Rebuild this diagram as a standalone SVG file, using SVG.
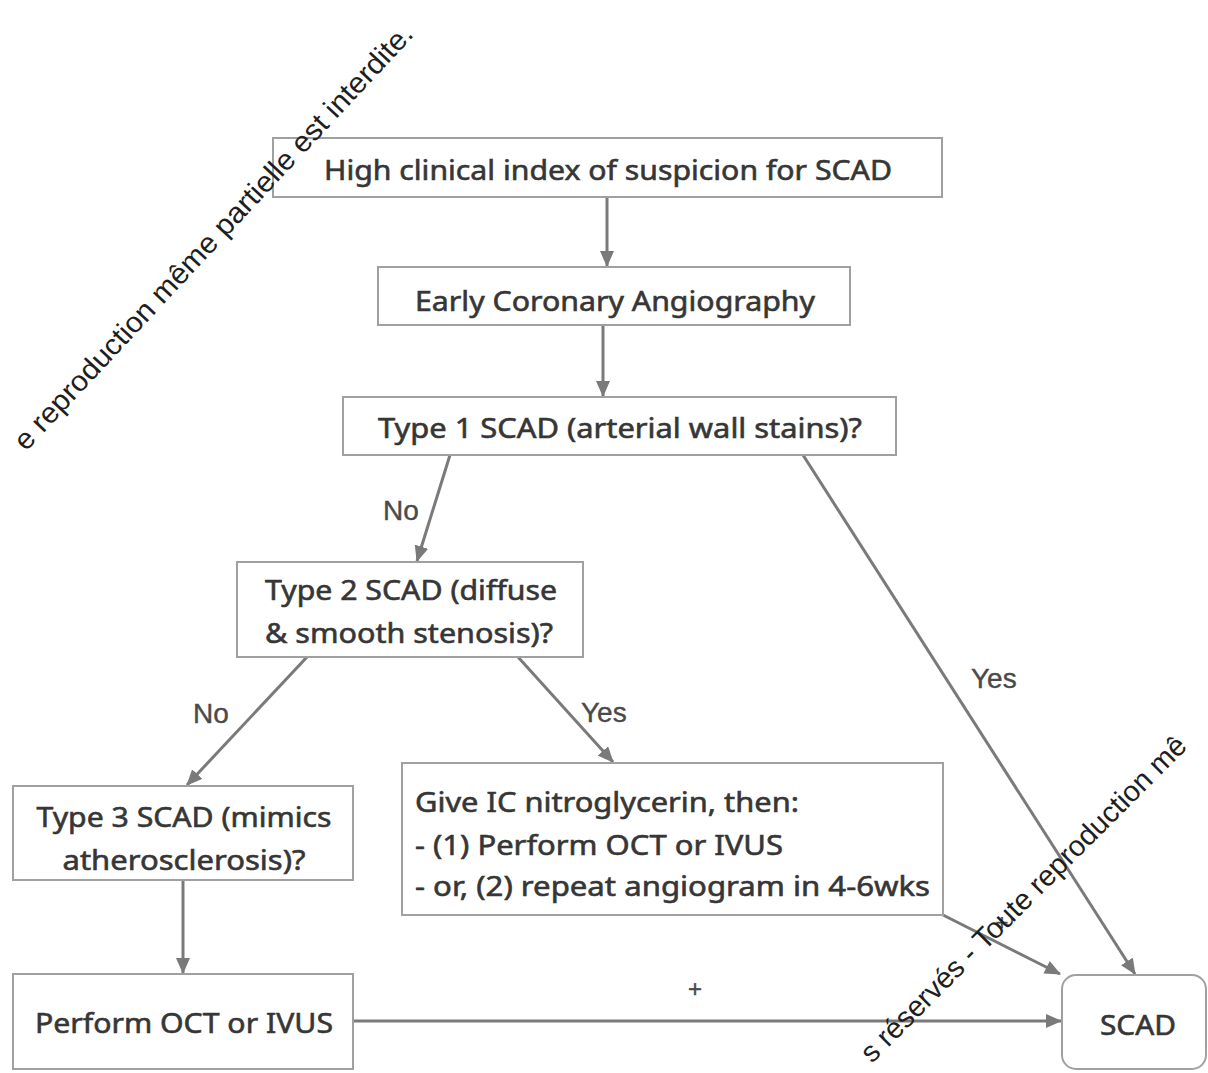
<svg xmlns="http://www.w3.org/2000/svg" width="1208" height="1073" viewBox="0 0 1208 1073">
<style>
.box{fill:#ffffff;stroke:#a0a0a0;stroke-width:2}
.t{font-family:"Noto Sans","Open Sans",sans-serif;font-size:28px;fill:#363636;stroke:#363636;stroke-width:0.6}
.lbl{font-family:"Liberation Sans",Arial,sans-serif;font-size:28px;fill:#4a4a4a;stroke:#4a4a4a;stroke-width:0.4}
.con{stroke:#7a7a7a;stroke-width:3;fill:none;marker-end:url(#ah)}
.wm{font-family:"Liberation Sans",Arial,sans-serif;font-size:29px;fill:#1e1e1e}
</style>
<defs>
<marker id="ah" markerUnits="userSpaceOnUse" markerWidth="16" markerHeight="14" refX="15" refY="7" orient="auto">
<path d="M0,0 L16,7 L0,14 z" fill="#7a7a7a"/>
</marker>
</defs>
<rect width="1208" height="1073" fill="#ffffff"/>
<g id="connectors">
<line class="con" x1="607" y1="197" x2="607" y2="266"/>
<line class="con" x1="603" y1="325" x2="603" y2="396"/>
<line class="con" x1="450" y1="455" x2="417" y2="561"/>
<line class="con" x1="803" y1="455" x2="1135" y2="974"/>
<line class="con" x1="307" y1="657" x2="187" y2="785"/>
<line class="con" x1="518" y1="657" x2="613" y2="762"/>
<line class="con" x1="183" y1="880" x2="183" y2="973"/>
<line class="con" x1="943" y1="915" x2="1060" y2="974"/>
<line class="con" x1="353" y1="1021" x2="1061" y2="1021"/>
<text class="lbl" x="383" y="520">No</text>
<text class="lbl" x="193" y="723">No</text>
<text class="lbl" x="581" y="722">Yes</text>
<text class="lbl" x="971" y="688">Yes</text>
<text class="lbl" x="695" y="997" text-anchor="middle" style="font-size:24px">+</text>
<text class="lbl" x="1002" y="930" text-anchor="middle" style="font-size:22px">+</text>
</g>
<g id="n1"><rect class="box" x="273" y="138" width="669" height="59"/>
<text class="t" x="608" y="180" text-anchor="middle" textLength="568" lengthAdjust="spacingAndGlyphs">High clinical index of suspicion for SCAD</text></g>
<g id="n2"><rect class="box" x="378" y="267" width="472" height="58"/>
<text class="t" x="615" y="311" text-anchor="middle" textLength="400" lengthAdjust="spacingAndGlyphs">Early Coronary Angiography</text></g>
<g id="n3"><rect class="box" x="343" y="397" width="553" height="58"/>
<text class="t" x="620" y="438" text-anchor="middle" textLength="484" lengthAdjust="spacingAndGlyphs">Type 1 SCAD (arterial wall stains)?</text></g>
<g id="n4"><rect class="box" x="237" y="562" width="346" height="95"/>
<text class="t" x="265" y="600" textLength="292" lengthAdjust="spacingAndGlyphs">Type 2 SCAD (diffuse</text>
<text class="t" x="265" y="643" textLength="288" lengthAdjust="spacingAndGlyphs">&amp; smooth stenosis)?</text></g>
<g id="n5"><rect class="box" x="13" y="786" width="340" height="94"/>
<text class="t" x="184" y="827" text-anchor="middle" textLength="295" lengthAdjust="spacingAndGlyphs">Type 3 SCAD (mimics</text>
<text class="t" x="184" y="870" text-anchor="middle" textLength="243" lengthAdjust="spacingAndGlyphs">atherosclerosis)?</text></g>
<g id="n6"><rect class="box" x="402" y="763" width="541" height="152"/>
<text class="t" x="415" y="812" textLength="384" lengthAdjust="spacingAndGlyphs">Give IC nitroglycerin, then:</text>
<text class="t" x="415" y="855" textLength="368" lengthAdjust="spacingAndGlyphs">- (1) Perform OCT or IVUS</text>
<text class="t" x="415" y="896" textLength="515" lengthAdjust="spacingAndGlyphs">- or, (2) repeat angiogram in 4-6wks</text></g>
<g id="n7"><rect class="box" x="13" y="974" width="340" height="95"/>
<text class="t" x="184" y="1033" text-anchor="middle" textLength="298" lengthAdjust="spacingAndGlyphs">Perform OCT or IVUS</text></g>
<g id="n8"><rect class="box" x="1062" y="975" width="144" height="94" rx="14"/>
<text class="t" x="1138" y="1035" text-anchor="middle" textLength="76" lengthAdjust="spacingAndGlyphs">SCAD</text></g>
<g id="watermark">
<text class="wm" transform="translate(26,452) rotate(-47)" textLength="570" lengthAdjust="spacingAndGlyphs">e reproduction même partielle est interdite.</text>
<text class="wm" transform="translate(872,1064) rotate(-45)">s réservés - Toute reproduction mê</text>
</g>
</svg>
